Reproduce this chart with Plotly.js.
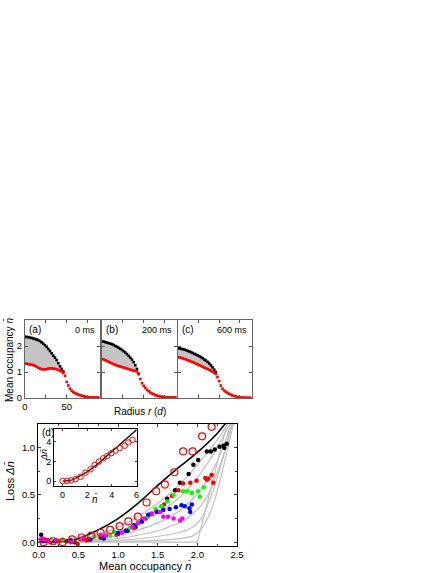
<!DOCTYPE html>
<html><head><meta charset="utf-8">
<script src="https://cdn.plot.ly/plotly-3.0.1.min.js"></script>
<style>html,body{margin:0;padding:0;background:#fff}#chart{width:443px;height:573px}</style>
</head><body><div id="chart"></div>
<script>
// ---------- Data: panels (a)-(c), radial profiles ----------
const radius = [0,2,4,6,8,10,12,14,16,18,20,22,24,26,28,30,32,34,36,38,40,42,44,46,48,50,52,54,56,58,60,62,64,66,68,70,72,74,76,78,80,82,84,86,88];
const a_black = [2.35,2.35,2.34,2.32,2.31,2.29,2.27,2.25,2.22,2.19,2.14,2.09,2.03,1.97,1.89,1.81,1.72,1.63,1.55,1.46,1.34,1.22,1.12,1.02];
const a_red = [1.32,1.32,1.30,1.29,1.28,1.26,1.24,1.20,1.16,1.13,1.11,1.10,1.10,1.11,1.13,1.14,1.14,1.13,1.12,1.10,1.08,1.05,1.02,0.96,0.85,0.62,0.48,0.36,0.28,0.22,0.19,0.16,0.13,0.11,0.09,0.07,0.05,0.04,0.03,0.02,0.02,0.02,0.02,0.02,0.02];
const b_black = [2.18,2.17,2.15,2.13,2.11,2.09,2.07,2.04,2.00,1.97,1.93,1.89,1.85,1.80,1.75,1.69,1.62,1.55,1.47,1.38,1.26,1.12,0.93];
const b_red = [1.50,1.48,1.45,1.42,1.39,1.36,1.33,1.30,1.27,1.25,1.23,1.21,1.19,1.17,1.15,1.13,1.11,1.09,1.07,1.05,1.04,1.02,0.92,0.73,0.57,0.47,0.39,0.31,0.26,0.21,0.17,0.14,0.11,0.09,0.07,0.06,0.05,0.04,0.03,0.03,0.02,0.02,0.02,0.02,0.02];
const c_black = [1.92,1.91,1.89,1.88,1.86,1.84,1.81,1.79,1.76,1.73,1.70,1.67,1.64,1.61,1.57,1.53,1.48,1.44,1.39,1.33,1.26,1.18,1.09,1.00];
const c_red = [1.57,1.56,1.54,1.52,1.50,1.48,1.45,1.43,1.40,1.38,1.35,1.32,1.29,1.26,1.23,1.20,1.17,1.14,1.11,1.08,1.05,1.01,0.96,0.92,0.80,0.65,0.48,0.36,0.29,0.24,0.20,0.16,0.13,0.10,0.08,0.06,0.04,0.03,0.02,0.02,0.01,0.01,0.01,0.01,0.01];
const panelLabels = ["(a)","(b)","(c)"];
const panelTimes = ["0 ms","200 ms","600 ms"];

// ---------- Data: panel (d), loss vs mean occupancy ----------
const theory_n = [0,0.25,0.5,0.75,1.0,1.25,1.5,1.75,2.0,2.25,2.35,2.45];
const theory_loss = [0,0.005,0.04,0.13,0.25,0.41,0.60,0.78,0.95,1.15,1.25,1.34];

const gray_n = [
  [0,0.5,1.0,1.4,1.7,1.9,2.1,2.25,2.4],
  [0,0.5,1.0,1.4,1.7,1.9,2.1,2.25,2.42],
  [0,0.5,1.0,1.4,1.7,1.9,2.1,2.3,2.43],
  [0,0.5,1.0,1.4,1.7,1.9,2.1,2.3,2.44],
  [0,0.5,1.0,1.4,1.7,1.9,2.05,2.2,2.45],
  [0,1.0,1.5,1.8,1.95,2.05,2.2,2.46],
  [0,2.0,2.38]
];
const gray_loss = [
  [0,0.03,0.16,0.35,0.55,0.72,0.92,1.08,1.27],
  [0,0.02,0.11,0.26,0.42,0.58,0.80,1.00,1.27],
  [0,0.01,0.07,0.17,0.29,0.42,0.62,0.95,1.27],
  [0,0.005,0.04,0.10,0.18,0.27,0.45,0.85,1.27],
  [0,0,0.02,0.05,0.09,0.14,0.25,0.55,1.27],
  [0,0.01,0.02,0.04,0.07,0.14,0.40,1.27],
  [0,0,1.27]
];

const open_n = [0.06,0.18,0.30,0.42,0.54,0.66,0.78,0.90,1.02,1.13,1.25,1.36,1.48,1.59,1.71,1.82,1.94,2.06,2.18];
const open_loss = [0.00,0.01,0.00,0.03,0.05,0.07,0.10,0.13,0.17,0.22,0.27,0.42,0.54,0.61,0.74,0.96,0.96,1.12,1.22];

const black_n = [0.03,0.12,0.35,0.45,0.62,0.78,1.00,1.12,1.22,1.30,1.42,1.55,1.62,1.72,1.78,1.89,1.95,2.01,2.12,2.17,2.22,2.28,2.33,2.34,2.37];
const black_loss = [0.08,0.02,0.01,0.00,0.03,0.05,0.09,0.12,0.16,0.22,0.30,0.38,0.46,0.55,0.63,0.72,0.82,0.87,0.96,0.96,0.98,1.01,1.02,1.00,1.04];
const red_n = [0.05,0.15,0.25,0.49,0.60,0.80,0.98,1.10,1.20,1.35,1.48,1.58,1.68,1.76,1.82,1.91,1.99,2.10,2.12,2.14,2.18,2.20];
const red_loss = [0.02,0.00,0.01,-0.02,0.02,0.05,0.08,0.12,0.15,0.25,0.33,0.40,0.49,0.55,0.62,0.63,0.65,0.68,0.66,0.67,0.71,0.63];
const green_n = [0.03,0.15,0.30,0.42,0.55,0.70,0.90,0.95,1.05,1.15,1.25,1.38,1.47,1.55,1.62,1.70,1.82,1.87,1.93,2.01,2.03,2.08];
const green_loss = [0.02,0.03,0.03,0.02,0.04,0.06,0.07,0.11,0.11,0.15,0.20,0.27,0.35,0.38,0.43,0.50,0.54,0.54,0.52,0.54,0.48,0.58];
const blue_n = [0.05,0.20,0.40,0.65,0.82,1.00,1.10,1.20,1.30,1.38,1.49,1.57,1.65,1.73,1.80,1.84,1.90,1.91,1.93];
const blue_loss = [0.01,0.01,0.02,0.03,0.04,0.10,0.12,0.18,0.22,0.29,0.32,0.34,0.35,0.37,0.39,0.38,0.36,0.32,0.40];
const magenta_n = [0.02,0.05,0.08,0.12,0.22,0.40,0.55,0.78,0.85,1.05,1.18,1.25,1.32,1.43,1.53,1.57,1.63,1.70,1.78,1.81];
const magenta_loss = [0.03,0.04,0.03,0.01,0.02,0.00,0.04,0.08,0.07,0.10,0.16,0.20,0.25,0.30,0.32,0.27,0.27,0.25,0.23,0.25];

// ---------- Data: inset ----------
const inset_theory_n = [0,0.5,1,1.5,2,2.5,3,4,5,6];
const inset_theory_loss = [0,0.04,0.24,0.60,0.95,1.40,1.90,3.00,4.10,5.20];
const inset_n = [0.0,0.35,0.7,1.05,1.45,1.86,2.27,2.6,2.95,3.3,3.63,3.96,4.3,4.64,5.05,5.35,5.68];
const inset_loss = [0.0,0.02,0.08,0.2,0.44,0.85,1.2,1.64,1.98,2.32,2.56,2.84,3.1,3.35,3.6,3.93,4.2];

// ---------- Build ----------
const FONT = "Arial, 'Liberation Sans', sans-serif";
const traces = [];
const tops = [[a_black,a_red],[b_black,b_red],[c_black,c_red]];
tops.forEach((p,i)=>{
  const xa = i===0?'x':'x'+(i+1), ya = i===0?'y':'y'+(i+1);
  const nb = p[0].length;
  traces.push({x:radius.slice(0,nb), y:p[0], xaxis:xa, yaxis:ya, mode:'lines', line:{width:0,color:'rgba(0,0,0,0)'}, hoverinfo:'skip', showlegend:false});
  traces.push({x:radius.slice(0,nb), y:p[1].slice(0,nb), xaxis:xa, yaxis:ya, mode:'lines', fill:'tonexty', fillcolor:'#c4c4c4', line:{width:0,color:'rgba(0,0,0,0)'}, hoverinfo:'skip', showlegend:false});
  traces.push({x:radius.slice(0,nb), y:p[0], xaxis:xa, yaxis:ya, mode:'markers', marker:{symbol:'square',size:2.6,color:'#000'}, showlegend:false});
  traces.push({x:radius, y:p[1], xaxis:xa, yaxis:ya, mode:'markers', marker:{symbol:'square',size:2.6,color:'#ff0000'}, showlegend:false});
});
gray_n.forEach((g,k)=>{
  traces.push({x:g, y:gray_loss[k], xaxis:'x4', yaxis:'y4', mode:'lines', line:{color:'#c0c0c0',width:1.2,shape:k===6?'linear':'spline',smoothing:0.8}, showlegend:false});
});
traces.push({x:theory_n, y:theory_loss, xaxis:'x4', yaxis:'y4', mode:'lines', line:{color:'#000',width:1.6,shape:'spline'}, showlegend:false});
const dotSets = [[black_n,black_loss,'#000000'],[red_n,red_loss,'#ff0000'],[green_n,green_loss,'#00ff00'],[blue_n,blue_loss,'#0000ff'],[magenta_n,magenta_loss,'#ff00ff']];
dotSets.forEach(d=>{
  traces.push({x:d[0], y:d[1], xaxis:'x4', yaxis:'y4', mode:'markers', marker:{size:4.5,color:d[2]}, showlegend:false});
});
traces.push({x:open_n, y:open_loss, xaxis:'x4', yaxis:'y4', mode:'markers', marker:{size:7,symbol:'circle-open',color:'#ff0000',line:{width:1.2}}, showlegend:false});
traces.push({x:inset_theory_n, y:inset_theory_loss, xaxis:'x5', yaxis:'y5', mode:'lines', line:{color:'#000',width:1.3,shape:'spline'}, showlegend:false});
traces.push({x:inset_n, y:inset_loss, xaxis:'x5', yaxis:'y5', mode:'markers', marker:{size:5.5,symbol:'circle-open',color:'#ff0000',line:{width:1}}, showlegend:false});

const W=443,H=573;
const dx = (a,b)=>[a/W,b/W];
const dy = (top,bot)=>[1-bot/H,1-top/H];
const topAx = (dom, labels)=>({domain:dom, range:[0,90], tickvals:[0,25,50,75], ticktext:labels?['0','','50','']:['','','',''], ticks:'inside', ticklen:3, tickcolor:'#555', showline:true, linecolor:'#666', linewidth:1, mirror:'ticks', showgrid:false, zeroline:false, tickfont:{size:9.5,family:FONT,color:'#000'}});
const topAy = (dom, labels, anchor)=>({domain:dom, range:[0,3], tickvals:[0,1,2,3], ticktext:labels?['0','1','2','']:['','','',''], ticks:'inside', ticklen:3, tickcolor:'#555', showline:true, linecolor:'#666', linewidth:1, mirror:'ticks', showgrid:false, zeroline:false, anchor:anchor, tickfont:{size:9.5,family:FONT,color:'#000'}});
const ydTop = dy(320,398);
const layout = {
  width:W, height:H, margin:{l:0,r:0,t:0,b:0}, paper_bgcolor:'#fff', plot_bgcolor:'#fff', showlegend:false,
  font:{family:FONT,size:10,color:'#000'},
  xaxis: Object.assign(topAx(dx(25,100),true),{anchor:'y'}),
  yaxis: topAy(ydTop,true,'x'),
  xaxis2: Object.assign(topAx(dx(102,177),false),{anchor:'y2'}),
  yaxis2: topAy(ydTop,false,'x2'),
  xaxis3: Object.assign(topAx(dx(178,252),false),{anchor:'y3'}),
  yaxis3: topAy(ydTop,false,'x3'),
  xaxis4: {domain:dx(38,237), range:[-0.01,2.5], anchor:'y4', dtick:0.5, tick0:0, tickformat:'.1f', ticks:'inside', ticklen:3, showline:true, linecolor:'#000', linewidth:1, mirror:'ticks', showgrid:false, zeroline:false, minor:{dtick:0.25, ticks:'inside', ticklen:2, showgrid:false}, tickfont:{size:9.5,family:FONT,color:'#000'}},
  yaxis4: {domain:dy(424,546), range:[-0.04,1.25], anchor:'x4', dtick:0.5, tick0:0, tickformat:'.1f', ticks:'inside', ticklen:3, showline:true, linecolor:'#000', linewidth:1, mirror:'ticks', showgrid:false, zeroline:false, minor:{dtick:0.25, ticks:'inside', ticklen:2, showgrid:false}, tickfont:{size:9.5,family:FONT,color:'#000'}},
  xaxis5: {domain:dx(54,137), range:[-0.7,6.05], anchor:'y5', dtick:2, tick0:0, ticks:'inside', ticklen:2, showline:true, linecolor:'#000', linewidth:1, mirror:'ticks', showgrid:false, zeroline:false, tickfont:{size:9,family:FONT,color:'#000'}},
  yaxis5: {domain:dy(429,486), range:[-0.5,5.3], anchor:'x5', dtick:2, tick0:0, ticks:'inside', ticklen:2, showline:true, linecolor:'#000', linewidth:1, mirror:'ticks', showgrid:false, zeroline:false, tickfont:{size:9,family:FONT,color:'#000'}},
  annotations: []
};
const ann = layout.annotations;
const A = (o)=>ann.push(Object.assign({xref:'paper', yref:'paper', showarrow:false, xanchor:'center', yanchor:'middle'}, o));
const px = v=>v/W, py = v=>1-v/H;
const panelX = [[25,100],[102,177],[178,252]];
panelLabels.forEach((t,i)=>{
  A({text:t, x:px(panelX[i][0]+2), y:py(322), xanchor:'left', yanchor:'top', font:{size:10}});
  A({text:panelTimes[i], x:px(panelX[i][1]-3), y:py(323), xanchor:'right', yanchor:'top', font:{size:9}});
});
A({text:'Mean occupancy <i>n\u0304</i>', x:px(9), y:py(360), textangle:-90, font:{size:10}});
A({text:'Radius <i>r</i> (<i>d</i>)', x:px(140), y:py(411), font:{size:10}});
A({text:'(d)', x:px(40), y:py(425), xanchor:'left', yanchor:'top', font:{size:10}});
A({text:'Loss <i>\u0394n\u0304</i>', x:px(10), y:py(481), textangle:-90, font:{size:11}});
A({text:'Mean occupancy <i>n\u0304</i>', x:px(145), y:py(566), font:{size:11}});
A({text:'<i>\u0394n\u0304</i>', x:px(44), y:py(455), textangle:-90, font:{size:9}});
A({text:'<i>n\u0304</i>', x:px(95), y:py(499), font:{size:10}});
Plotly.newPlot('chart', traces, layout, {staticPlot:true, displayModeBar:false});
</script></body></html>
